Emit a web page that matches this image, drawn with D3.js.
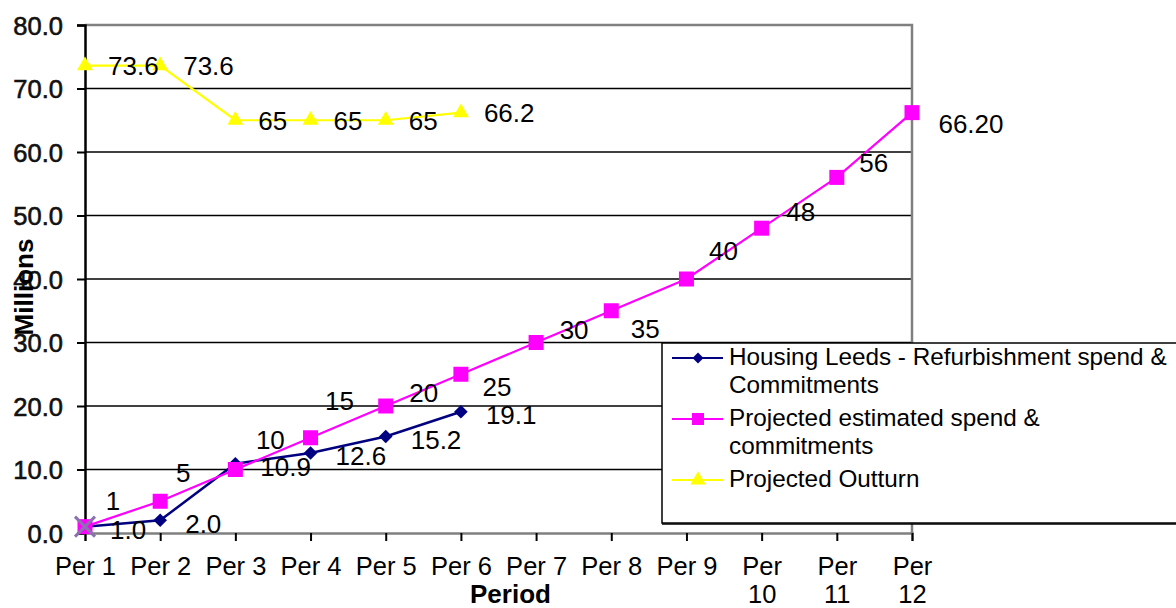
<!DOCTYPE html>
<html>
<head>
<meta charset="utf-8">
<script src="https://cdn.jsdelivr.net/npm/d3@7"></script>
<style>
  html, body { margin: 0; padding: 0; background: #fff; }
  svg { display: block; font-family: "Liberation Sans", Arial, sans-serif; }
</style>
</head>
<body>
<svg id="chart" width="1176" height="608"></svg>
<script>
// ---- data ----
const categories = ["Per 1","Per 2","Per 3","Per 4","Per 5","Per 6","Per 7","Per 8","Per 9","Per 10","Per 11","Per 12"];
const housingLeeds = [1.0, 2.0, 10.9, 12.6, 15.2, 19.1];
const projectedSpend = [1, 5, 10, 15, 20, 25, 30, 35, 40, 48, 56, 66.2];
const projectedSpendLabels = ["1","5","10","15","20","25","30","35","40","48","56","66.20"];
const projectedOutturn = [73.6, 73.6, 65, 65, 65, 66.2];
const extraMarker = [1.0];
const yTicks = [0, 10, 20, 30, 40, 50, 60, 70, 80];

// ---- layout (label offsets in pixels for the manually placed pink labels) ----
const pinkLabelDx = [28, 23, 35, 29, 38, 36, 38, 34, 37, 39, 37, 59];
const pinkLabelDy = [-26, -29, -30, -37, -13, 12, -13, 18, -28, -17, -15, 11];

(function () {
const svg = d3.select("#chart");
const pLeft = 85, pRight = 912, pTop = 25, pBottom = 533;
const x = d3.scalePoint().domain(categories).range([pLeft, pRight]);
const y = d3.scaleLinear().domain([0, 80]).range([pBottom, pTop]);

// gridlines
svg.append("g").selectAll("line").data(yTicks.filter(t => t > 0 && t < 80)).join("line")
  .attr("x1", pLeft).attr("x2", pRight)
  .attr("y1", d => y(d)).attr("y2", d => y(d))
  .attr("stroke", "#000").attr("stroke-width", 1.6);

// plot border top & right (grey)
svg.append("path")
  .attr("d", `M${pLeft},${y(80)}H${pRight}V${pBottom}`)
  .attr("fill", "none").attr("stroke", "#808080").attr("stroke-width", 2.5);

// y axis
const yAxis = svg.append("g").attr("transform", `translate(${pLeft},0)`)
  .call(d3.axisLeft(y).tickValues(yTicks).tickFormat(d3.format(".1f")).tickSize(8).tickPadding(14));
yAxis.select(".domain").attr("stroke", "#000").attr("stroke-width", 2.5);
yAxis.selectAll(".tick line").attr("stroke", "#000").attr("stroke-width", 2);
yAxis.selectAll(".tick text").attr("font-size", 25.5).attr("fill", "#111")
  .attr("font-family", "Liberation Sans, Arial, sans-serif")
  .attr("stroke", "#111").attr("stroke-width", 0.6)
  .attr("dy", "0.36em");

// x axis
const xAxis = svg.append("g").attr("transform", `translate(0,${pBottom})`)
  .call(d3.axisBottom(x).tickSize(8).tickPadding(6));
xAxis.select(".domain").attr("stroke", "#808080").attr("stroke-width", 2.5);
xAxis.selectAll(".tick line").attr("stroke", "#000").attr("stroke-width", 2);
xAxis.selectAll(".tick text").each(function(d) {
  const t = d3.select(this);
  t.text(null).attr("font-size", 25.5).attr("fill", "#000")
    .attr("font-family", "Liberation Sans, Arial, sans-serif").attr("y", 0).attr("dy", null);
  const parts = d.split(" ");
  if (parts[1].length > 1) {
    t.append("tspan").attr("x", 0).attr("y", 42).text(parts[0]);
    t.append("tspan").attr("x", 0).attr("y", 70).text(parts[1]);
  } else {
    t.append("tspan").attr("x", 0).attr("y", 42).text(d);
  }
});

// axis titles
svg.append("text").attr("x", (pLeft + pRight) / 2 + 12).attr("y", 603)
  .attr("text-anchor", "middle").attr("font-size", 26).attr("font-weight", "bold").text("Period");
svg.append("text").attr("transform", `translate(33,287) rotate(-90)`)
  .attr("text-anchor", "middle").attr("font-size", 26).attr("font-weight", "bold").text("Millions");

const line = d3.line().x((d, i) => x(categories[i])).y(d => y(d));

// series lines
svg.append("path").datum(projectedOutturn).attr("d", line)
  .attr("fill", "none").attr("stroke", "#ffff00").attr("stroke-width", 2.2);
svg.append("path").datum(housingLeeds).attr("d", line)
  .attr("fill", "none").attr("stroke", "#000080").attr("stroke-width", 2.5);
svg.append("path").datum(projectedSpend).attr("d", line)
  .attr("fill", "none").attr("stroke", "#ff00ff").attr("stroke-width", 2.2);

// markers
const sym = (type, size) => d3.symbol().type(type).size(size)();
const diamond = r => `M0,${-r}L${r},0L0,${r}L${-r},0Z`;
svg.append("g").selectAll("path").data(projectedOutturn).join("path")
  .attr("transform", (d, i) => `translate(${x(categories[i])},${y(d)})`)
  .attr("d", sym(d3.symbolTriangle, 110)).attr("fill", "#ffff00");
svg.append("g").selectAll("path").data(housingLeeds).join("path")
  .attr("transform", (d, i) => `translate(${x(categories[i])},${y(d)})`)
  .attr("d", diamond(6.8)).attr("fill", "#000080");
svg.append("g").selectAll("rect").data(projectedSpend).join("rect")
  .attr("x", (d, i) => x(categories[i]) - 7.5).attr("y", d => y(d) - 7.5)
  .attr("width", 15).attr("height", 15).attr("fill", "#ff00ff");
svg.append("g").selectAll("path").data(extraMarker).join("path")
  .attr("transform", (d, i) => `translate(${x(categories[i])},${y(d)})`)
  .attr("d", "M-10,-10L10,10M-10,10L10,-10")
  .attr("stroke", "#8a72b0").attr("stroke-width", 3).attr("fill", "none");

// data labels
const lbl = svg.append("g").attr("font-size", 26).attr("fill", "#000");
lbl.selectAll(".yl").data(projectedOutturn).join("text")
  .attr("x", (d, i) => x(categories[i]) + 23).attr("y", d => y(d))
  .attr("dy", "0.36em").text(d => String(d));
lbl.selectAll(".bl").data(housingLeeds).join("text")
  .attr("x", (d, i) => x(categories[i]) + 25).attr("y", d => y(d) + 3)
  .attr("dy", "0.36em").text(d => d3.format(".1f")(d));
lbl.selectAll(".pl").data(projectedSpend).join("text")
  .attr("x", (d, i) => x(categories[i]) + pinkLabelDx[i]).attr("y", (d, i) => y(d) + pinkLabelDy[i])
  .attr("text-anchor", "middle").attr("dy", "0.36em").text((d, i) => projectedSpendLabels[i]);

// legend
const lg = svg.append("g");
lg.append("rect").attr("x", 662).attr("y", 343).attr("width", 530).attr("height", 180)
  .attr("fill", "#fff").attr("stroke", "#000").attr("stroke-width", 1.5);
lg.append("line").attr("x1", 662).attr("x2", 1176).attr("y1", 524).attr("y2", 524)
  .attr("stroke", "#000").attr("stroke-width", 1.5);
const legendRows = [
  { color: "#000080", sym: "diamond", y: 358, lines: ["Housing Leeds - Refurbishment spend &", "Commitments"] },
  { color: "#ff00ff", sym: "square", y: 419, lines: ["Projected estimated spend &", "commitments"] },
  { color: "#ffff00", sym: "triangle", y: 480, lines: ["Projected Outturn"] }
];
legendRows.forEach((r) => {
  lg.append("line").attr("x1", 672).attr("x2", 723).attr("y1", r.y).attr("y2", r.y)
    .attr("stroke", r.color).attr("stroke-width", 2.2);
  if (r.sym === "square") {
    lg.append("rect").attr("x", 692).attr("y", r.y - 6).attr("width", 12).attr("height", 12).attr("fill", r.color);
  } else if (r.sym === "diamond") {
    lg.append("path").attr("transform", `translate(698,${r.y})`).attr("d", diamond(5.5)).attr("fill", r.color);
  } else {
    lg.append("path").attr("transform", `translate(698,${r.y})`)
      .attr("d", sym(d3.symbolTriangle, 100)).attr("fill", r.color);
  }
  const t = lg.append("text").attr("font-size", 24.3).attr("fill", "#000");
  r.lines.forEach((s, j) => {
    t.append("tspan").attr("x", 729).attr("y", r.y + 7 + j * 28).text(s);
  });
});
})();
</script>
</body>
</html>
